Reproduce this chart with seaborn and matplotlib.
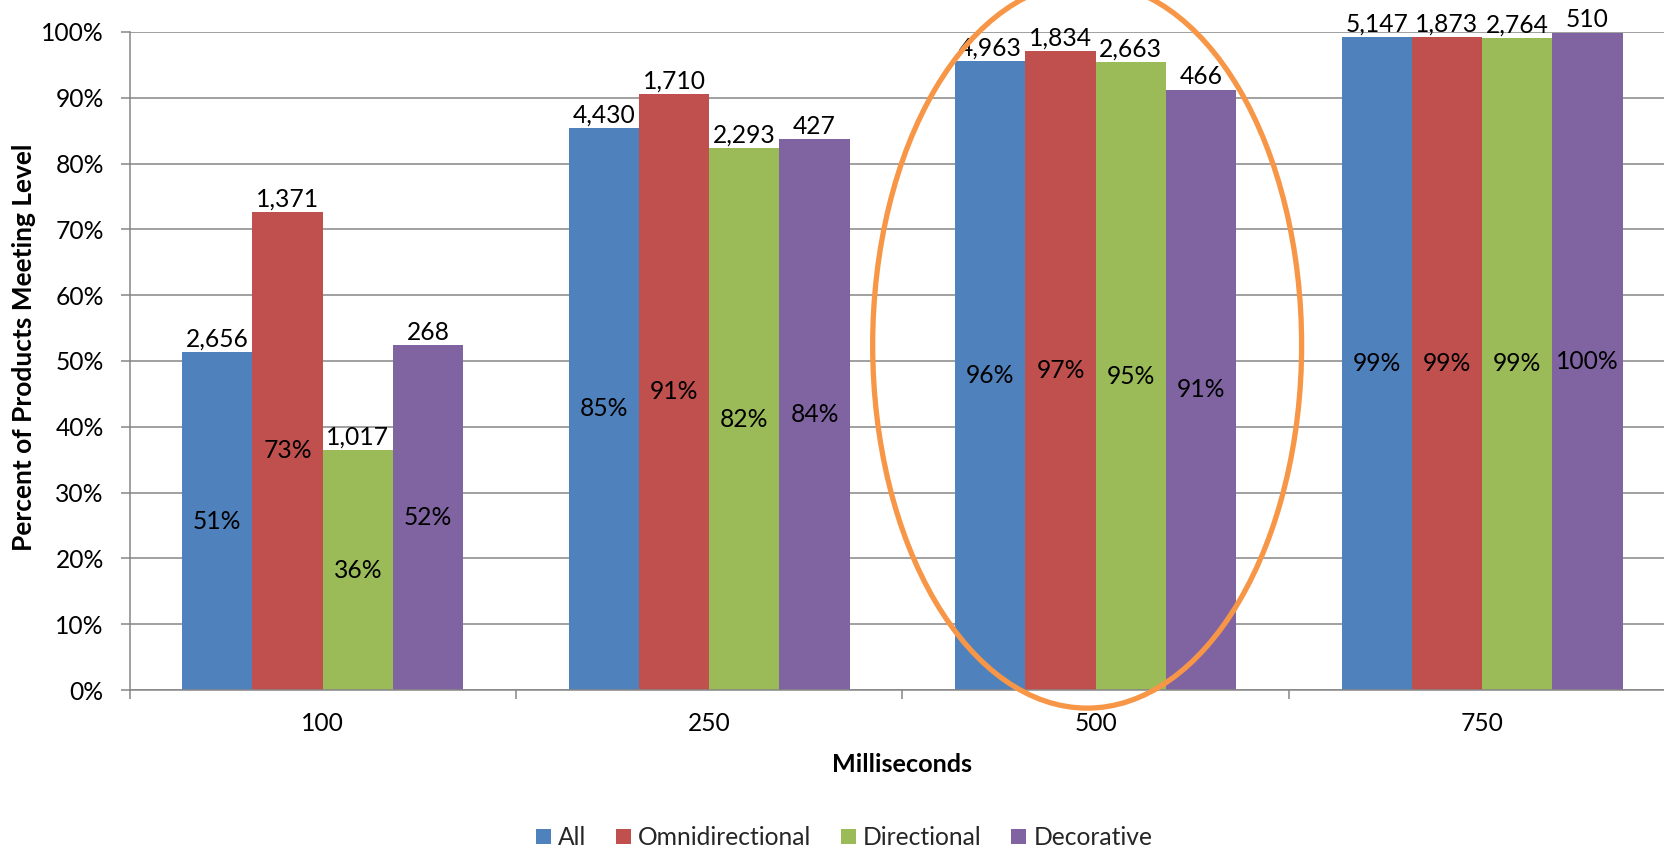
import matplotlib
matplotlib.use("Agg")
import matplotlib.pyplot as plt
from matplotlib.patches import Ellipse, Patch
import seaborn as sns
import pandas as pd

# Response-time levels and product groups
levels = ["100", "250", "500", "750"]
groups = ["All", "Omnidirectional", "Directional", "Decorative"]

# Percent of products meeting each level
pct_all = [51.3, 85.4, 95.6, 99.2]
pct_omni = [72.7, 90.6, 97.1, 99.2]
pct_dir = [36.4, 82.3, 95.4, 99.1]
pct_deco = [52.4, 83.7, 91.2, 99.9]

# Number of products meeting each level
n_all = [2656, 4430, 4963, 5147]
n_omni = [1371, 1710, 1834, 1873]
n_dir = [1017, 2293, 2663, 2764]
n_deco = [268, 427, 466, 510]

colors = ["#4F81BD", "#C0504D", "#9BBB59", "#8064A2"]
grid_gray = "#868686"

pcts = [pct_all, pct_omni, pct_dir, pct_deco]
counts = [n_all, n_omni, n_dir, n_deco]

rows = []
for g, pv in zip(groups, pcts):
    for lev, v in zip(levels, pv):
        rows.append({"Milliseconds": lev, "Group": g, "Percent": v})
df = pd.DataFrame(rows)

sns.set_theme(style="white")
plt.rcParams["font.family"] = ["Lato", "DejaVu Sans"]

fig = plt.figure(figsize=(16.65, 8.48), dpi=100)
ax = fig.add_axes([0.0778, 0.1863, 0.9284, 0.7761])

sns.barplot(data=df, x="Milliseconds", y="Percent", hue="Group",
            order=levels, hue_order=groups, palette=colors,
            saturation=1, width=4 / 5.5, gap=0, ax=ax, legend=False,
            edgecolor="none", linewidth=0, zorder=2)

ax.set_xlim(-0.5, 3.5)
ax.set_ylim(0, 100)
ax.set_yticks(range(0, 101, 10))
ax.set_yticklabels([f"{t}%" for t in range(0, 101, 10)])
ax.yaxis.grid(True, color=grid_gray, linewidth=1.1)
ax.set_axisbelow(True)

for s in ["top", "right"]:
    ax.spines[s].set_visible(False)
for s in ["left", "bottom"]:
    ax.spines[s].set_color(grid_gray)
    ax.spines[s].set_linewidth(1.1)

fs = 17.7
ax.tick_params(axis="y", which="major", length=6.5, width=1.1, color=grid_gray,
               direction="out", pad=12, labelsize=fs, labelcolor="black", left=True)
ax.set_xticks(range(len(levels)))
ax.set_xticklabels(levels)
ax.tick_params(axis="x", which="major", length=0, pad=16, labelsize=fs, labelcolor="black")
ax.set_xticks([-0.5, 0.5, 1.5, 2.5, 3.5], minor=True)
ax.tick_params(axis="x", which="minor", length=6.5, width=1.1, color=grid_gray,
               direction="out", bottom=True)

ax.set_xlabel("Milliseconds", fontsize=18.2, fontweight="bold", color="black")
ax.set_ylabel("Percent of Products Meeting Level", fontsize=19, fontweight="bold",
              color="black")
ax.xaxis.set_label_coords(0.5, -0.096)
ax.yaxis.set_label_coords(-0.0604, 0.521)

# Count labels above each bar, percent labels in the middle
for cont, pv, nv in zip(ax.containers, pcts, counts):
    ax.bar_label(cont, labels=[f"{n:,}" for n in nv], padding=1, fontsize=fs,
                 color="black")
    ax.bar_label(cont, labels=[f"{round(v)}%" for v in pv], label_type="center",
                 fontsize=fs, color="black")

# Highlight around the 500 ms group
ax.add_patch(Ellipse((1.978, 52.4), 1.11, 110.3, fill=False,
                     edgecolor="#F79646", linewidth=3.8, clip_on=False, zorder=10))

handles = [Patch(facecolor=c, edgecolor="none") for c in colors]
fig.legend(handles, groups, loc="center", bbox_to_anchor=(0.507, 0.012),
           ncol=4, frameon=False, fontsize=fs, handlelength=0.6, handleheight=0.6,
           handletextpad=0.3, columnspacing=1.2, borderpad=0)

fig.savefig("out.png", dpi=100)
